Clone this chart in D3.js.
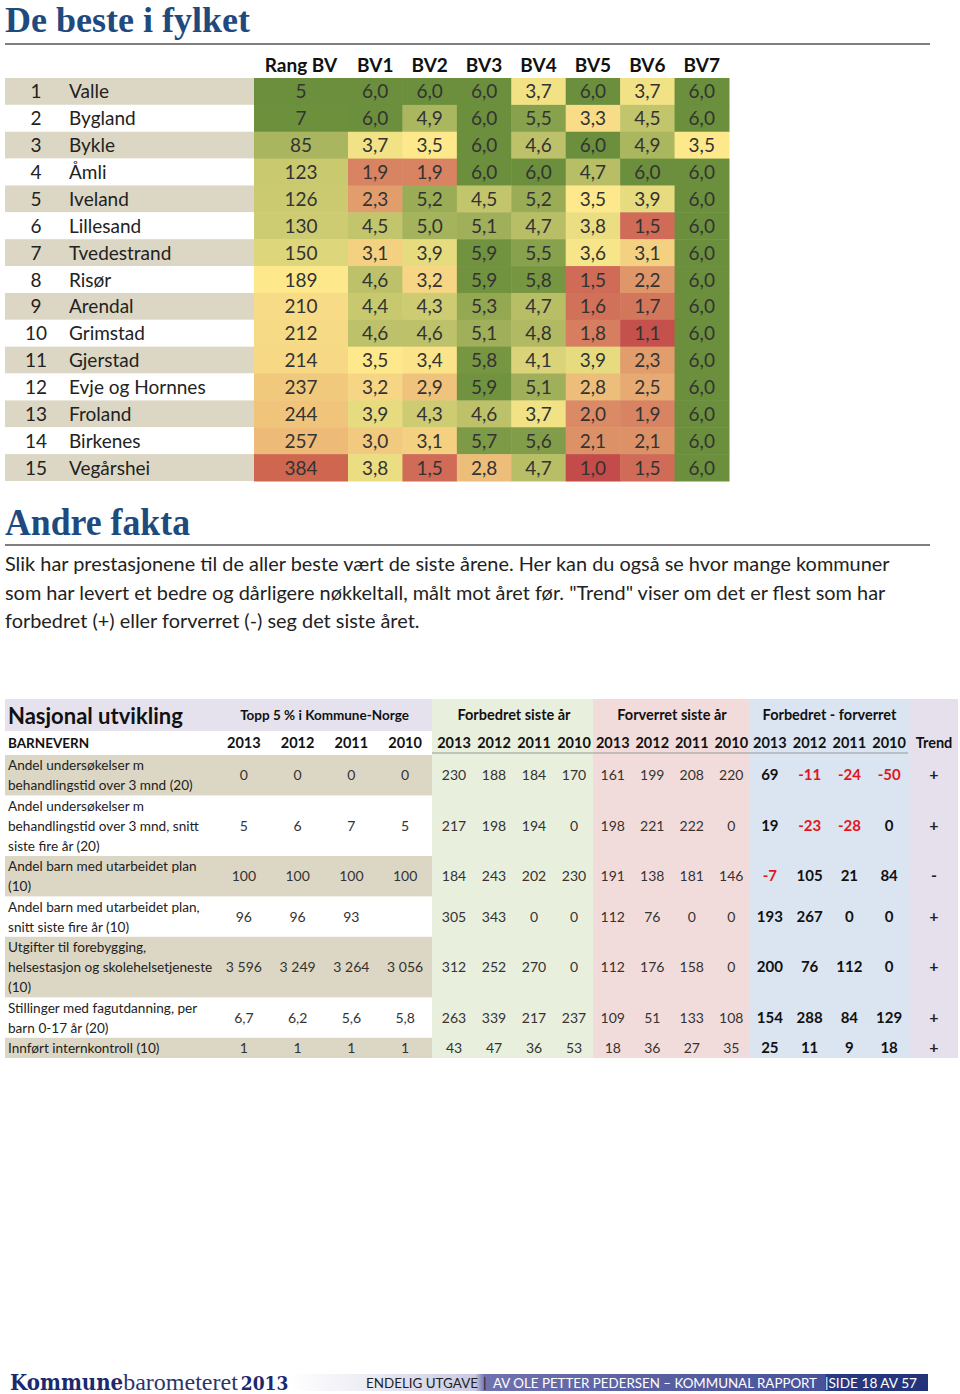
<!DOCTYPE html>
<html><head><meta charset="utf-8">
<script src="https://cdn.jsdelivr.net/npm/d3@7"></script>
<style>body{margin:0;background:#fff}svg{display:block}</style>
</head><body>
<script>
// ---------- DATA ----------
const municipalities = ["Valle","Bygland","Bykle","Åmli","Iveland","Lillesand","Tvedestrand","Risør","Arendal","Grimstad","Gjerstad","Evje og Hornnes","Froland","Birkenes","Vegårshei"];
const rangBV = [5,7,85,123,126,130,150,189,210,212,214,237,244,257,384];
const bvColumns = ["BV1","BV2","BV3","BV4","BV5","BV6","BV7"];
const bv1 = [6.0,6.0,3.7,1.9,2.3,4.5,3.1,4.6,4.4,4.6,3.5,3.2,3.9,3.0,3.8];
const bv2 = [6.0,4.9,3.5,1.9,5.2,5.0,3.9,3.2,4.3,4.6,3.4,2.9,4.3,3.1,1.5];
const bv3 = [6.0,6.0,6.0,6.0,4.5,5.1,5.9,5.9,5.3,5.1,5.8,5.9,4.6,5.7,2.8];
const bv4 = [3.7,5.5,4.6,6.0,5.2,4.7,5.5,5.8,4.7,4.8,4.1,5.1,3.7,5.6,4.7];
const bv5 = [6.0,3.3,6.0,4.7,3.5,3.8,3.6,1.5,1.6,1.8,3.9,2.8,2.0,2.1,1.0];
const bv6 = [3.7,4.5,4.9,6.0,3.9,1.5,3.1,2.2,1.7,1.1,2.3,2.5,1.9,2.1,1.5];
const bv7 = [6.0,6.0,3.5,6.0,6.0,6.0,6.0,6.0,6.0,6.0,6.0,6.0,6.0,6.0,6.0];
const bvSeries = [bv1,bv2,bv3,bv4,bv5,bv6,bv7];

const introLines = [
  "Slik har prestasjonene til de aller beste vært de siste årene. Her kan du også se hvor mange kommuner",
  "som har levert et bedre og dårligere nøkkeltall, målt mot året før. \"Trend\" viser om det er flest som har",
  "forbedret (+) eller forverret (-) seg det siste året."
];

const groupHeaders = ["Topp 5 % i Kommune-Norge","Forbedret siste år","Forverret siste år","Forbedret - forverret"];
const years = ["2013","2012","2011","2010"];
const indicatorLabels = [
  ["Andel undersøkelser m","behandlingstid over 3 mnd (20)"],
  ["Andel undersøkelser m","behandlingstid over 3 mnd, snitt","siste fire år (20)"],
  ["Andel barn med utarbeidet plan","(10)"],
  ["Andel barn med utarbeidet plan,","snitt siste fire år (10)"],
  ["Utgifter til forebygging,","helsestasjon og skolehelsetjeneste","(10)"],
  ["Stillinger med fagutdanning, per","barn 0-17 år (20)"],
  ["Innført internkontroll (10)"]
];
const top5 = [
  ["0","0","0","0"],
  ["5","6","7","5"],
  ["100","100","100","100"],
  ["96","96","93",""],
  ["3 596","3 249","3 264","3 056"],
  ["6,7","6,2","5,6","5,8"],
  ["1","1","1","1"]
];
const improved = [[230,188,184,170],[217,198,194,0],[184,243,202,230],[305,343,0,0],[312,252,270,0],[263,339,217,237],[43,47,36,53]];
const worsened = [[161,199,208,220],[198,221,222,0],[191,138,181,146],[112,76,0,0],[112,176,158,0],[109,51,133,108],[18,36,27,35]];
const netChange = [[69,-11,-24,-50],[19,-23,-28,0],[-7,105,21,84],[193,267,0,0],[200,76,112,0],[154,288,84,129],[25,11,9,18]];
const trend = ["+","+","-","+","+","+","+"];

// ---------- DRAW ----------
const SANS = "Lato, 'Open Sans', sans-serif";
const SERIF = "'Liberation Serif', 'DejaVu Serif', serif";
const BLUE = "#1f4a7e";
const fmt = v => d3.format(".1f")(v).replace(".", ",");

const svg = d3.select("body").append("svg").attr("width",960).attr("height",1394)
  .style("background","#fff");

// Title
svg.append("text").attr("x",5).attr("y",32).text("De beste i fylket")
  .attr("font-family",SERIF).attr("font-weight","bold").attr("font-size",36)
  .attr("fill",BLUE).attr("textLength",245).attr("lengthAdjust","spacingAndGlyphs");
svg.append("line").attr("x1",5).attr("x2",930).attr("y1",44).attr("y2",44)
  .attr("stroke","#555").attr("stroke-width",1.6);

// Top table scales
const yRow = d3.scaleBand().domain(municipalities).range([78,481]);
const xBV = d3.scaleBand().domain(bvColumns).range([348,729]);
const rangX0 = 254, rangX1 = 348;
const RED = "#c34b4a", YEL = "#fde98c", GRN = "#6b8f3c";
const colorBV = d3.scaleLinear().domain([1,3.5,6]).range([RED,YEL,GRN]).interpolate(d3.interpolateRgb);
const colorRang = d3.scaleLinear().domain([d3.min(rangBV), d3.median(rangBV), d3.max(rangBV)]).range([GRN,YEL,"#ce6650"]);

// header
const topHead = svg.append("g").attr("font-family",SANS).attr("font-weight","bold").attr("font-size",19).attr("fill","#111").attr("text-anchor","middle");
topHead.append("text").attr("x",(rangX0+rangX1)/2).attr("y",72).text("Rang BV");
bvColumns.forEach(c => topHead.append("text").attr("x",xBV(c)+xBV.bandwidth()/2).attr("y",72).text(c));

const rows = svg.append("g").selectAll("g").data(municipalities).join("g");
rows.append("rect").attr("x",5).attr("width",rangX0-5).attr("y",d=>yRow(d)).attr("height",yRow.bandwidth())
  .attr("fill",(d,i)=> i%2===0 ? "#dcd7c4" : "#ffffff");
rows.append("text").attr("x",36).attr("y",d=>yRow(d)+yRow.bandwidth()/2+7).attr("text-anchor","middle")
  .attr("font-family",SANS).attr("font-size",19).attr("fill","#222").text((d,i)=>i+1);
rows.append("text").attr("x",69).attr("y",d=>yRow(d)+yRow.bandwidth()/2+7)
  .attr("font-family",SANS).attr("font-size",19).attr("fill","#222").text(d=>d);
rows.append("rect").attr("x",rangX0).attr("width",rangX1-rangX0).attr("y",d=>yRow(d)).attr("height",yRow.bandwidth()+0.5)
  .attr("fill",(d,i)=>colorRang(rangBV[i]));
rows.append("text").attr("x",(rangX0+rangX1)/2).attr("y",d=>yRow(d)+yRow.bandwidth()/2+7).attr("text-anchor","middle")
  .attr("font-family",SANS).attr("font-size",19).attr("fill","#333").text((d,i)=>rangBV[i]);
bvColumns.forEach((c,ci) => {
  rows.append("rect").attr("x",xBV(c)).attr("width",xBV.bandwidth()+0.5).attr("y",d=>yRow(d)).attr("height",yRow.bandwidth()+0.5)
    .attr("fill",(d,i)=>colorBV(bvSeries[ci][i]));
  rows.append("text").attr("x",xBV(c)+xBV.bandwidth()/2).attr("y",d=>yRow(d)+yRow.bandwidth()/2+7).attr("text-anchor","middle")
    .attr("font-family",SANS).attr("font-size",19).attr("fill","#333").text((d,i)=>fmt(bvSeries[ci][i]));
});

// Andre fakta
svg.append("text").attr("x",5).attr("y",535).text("Andre fakta")
  .attr("font-family",SERIF).attr("font-weight","bold").attr("font-size",38)
  .attr("fill",BLUE).attr("textLength",185).attr("lengthAdjust","spacingAndGlyphs");
svg.append("line").attr("x1",5).attr("x2",930).attr("y1",545).attr("y2",545)
  .attr("stroke","#555").attr("stroke-width",1.6);
svg.append("g").selectAll("text").data(introLines).join("text")
  .attr("x",5).attr("y",(d,i)=>571+i*28.7).text(d=>d)
  .attr("font-family",SANS).attr("font-size",19.9).attr("fill","#222");

// Bottom table
const T0 = 699, HEADB = 731, DATA0 = 755, DATA1 = 1058;
const groupRanges = [[217,432],[434,594],[593,751],[750,909]];
const groupBg = [null,[432,593,"#e9efdd"],[593,749,"#f2dcdb"],[749,910,"#dbe5f1"]];
const xGroup = groupRanges.map(r => d3.scaleBand().domain(years).range(r));
const trendX0 = 910, trendX1 = 958;

const bt = svg.append("g");
bt.append("rect").attr("x",5).attr("y",T0).attr("width",432-5).attr("height",HEADB-T0).attr("fill","#e5e2ee");
groupBg.forEach(g => { if (g) bt.append("rect").attr("x",g[0]).attr("y",T0).attr("width",g[1]-g[0]).attr("height",DATA1-T0).attr("fill",g[2]); });
bt.append("rect").attr("x",trendX0).attr("y",T0).attr("width",trendX1-trendX0).attr("height",DATA1-T0).attr("fill","#e5e0ec");

const lineCounts = indicatorLabels.map(l=>l.length);
const cum = d3.cumsum([0, ...lineCounts]);
const yLine = d3.scaleLinear().domain([0, d3.sum(lineCounts)]).range([DATA0, DATA1]);
indicatorLabels.forEach((lab,i) => {
  if (i%2===0) bt.append("rect").attr("x",5).attr("width",432-5).attr("y",yLine(cum[i])).attr("height",yLine(cum[i+1])-yLine(cum[i])).attr("fill","#dcd7c4");
});
bt.append("line").attr("x1",432).attr("x2",908).attr("y1",753).attr("y2",753).attr("stroke","#999").attr("stroke-width",1);

// headers
bt.append("text").attr("x",8).attr("y",724).text("Nasjonal utvikling").attr("font-family",SANS).attr("font-weight","bold").attr("font-size",22).attr("fill","#111");
groupHeaders.forEach((h,gi) => {
  const r = groupRanges[gi];
  bt.append("text").attr("x",(r[0]+r[1])/2).attr("y",720).attr("text-anchor","middle").text(h)
    .attr("font-family",SANS).attr("font-weight","bold").attr("font-size",gi===0?13.5:14.5).attr("fill","#111");
  years.forEach(y => bt.append("text").attr("x",xGroup[gi](y)+xGroup[gi].bandwidth()/2).attr("y",748).attr("text-anchor","middle")
    .text(y).attr("font-family",SANS).attr("font-weight","bold").attr("font-size",14.5).attr("fill","#111"));
});
bt.append("text").attr("x",8).attr("y",748).text("BARNEVERN").attr("font-family",SANS).attr("font-weight","bold").attr("font-size",13.5).attr("fill","#111");
bt.append("text").attr("x",(trendX0+trendX1)/2).attr("y",748).attr("text-anchor","middle").text("Trend").attr("font-family",SANS).attr("font-weight","bold").attr("font-size",14.5).attr("fill","#111");

// data rows
indicatorLabels.forEach((lab,i) => {
  lab.forEach((t,j) => bt.append("text").attr("x",8).attr("y",yLine(cum[i]+j+0.5)+5).text(t)
    .attr("font-family",SANS).attr("font-size",13.6).attr("fill","#222"));
  const cy = (yLine(cum[i])+yLine(cum[i+1]))/2 + 5;
  const sets = [top5[i], improved[i], worsened[i], netChange[i]];
  sets.forEach((vals,gi) => {
    years.forEach((y,k) => {
      const v = vals[k];
      const t = bt.append("text").attr("x",xGroup[gi](y)+xGroup[gi].bandwidth()/2).attr("y",cy).attr("text-anchor","middle")
        .text(v).attr("font-family",SANS);
      if (gi===3) t.attr("font-weight","bold").attr("font-size",15).attr("fill", v<0 ? "#e0161c" : "#111");
      else t.attr("font-size",14).attr("fill","#333");
    });
  });
  bt.append("text").attr("x",(trendX0+trendX1)/2).attr("y",cy).attr("text-anchor","middle").text(trend[i])
    .attr("font-family",SANS).attr("font-weight","bold").attr("font-size",16).attr("fill","#222");
});

// Footer
const defs = svg.append("defs");
const grad = defs.append("linearGradient").attr("id","fbar").attr("x1","0").attr("x2","1").attr("y1","0").attr("y2","0");
[[0,"#ffffff"],[0.12,"#ececf4"],[0.29,"#c9cae2"],[0.305,"#6f72ae"],[0.55,"#5a61a2"],[0.838,"#48529a"],[0.84,"#2a3a80"],[1,"#22337a"]]
  .forEach(s => grad.append("stop").attr("offset",s[0]).attr("stop-color",s[1]));
svg.append("rect").attr("x",290).attr("y",1374).attr("width",638).attr("height",17).attr("fill","url(#fbar)");
const brand = svg.append("text").attr("x",10).attr("y",1390);
brand.append("tspan").text("Kommune")
  .attr("font-family","'DejaVu Serif Condensed', 'DejaVu Serif', serif").attr("font-weight","bold").attr("font-size",22).attr("fill","#1b2a6e");
brand.append("tspan").text("barometeret")
  .attr("font-family",SERIF).attr("font-size",24).attr("fill","#2a3570");
brand.append("tspan").attr("dx",3).text("2013")
  .attr("font-family","'DejaVu Serif Condensed', 'DejaVu Serif', serif").attr("font-weight","bold").attr("font-size",19).attr("fill","#1b2a6e");
svg.append("text").attr("x",366).attr("y",1388).text("ENDELIG UTGAVE").attr("font-family",SANS).attr("font-size",14).attr("fill","#222")
  .attr("textLength",112).attr("lengthAdjust","spacingAndGlyphs");
svg.append("text").attr("x",483).attr("y",1388).text("|").attr("font-family",SANS).attr("font-size",14).attr("fill","#222");
svg.append("text").attr("x",493).attr("y",1388).text("AV OLE PETTER PEDERSEN – KOMMUNAL RAPPORT").attr("font-family",SANS).attr("font-size",14).attr("fill","#fff")
  .attr("textLength",324).attr("lengthAdjust","spacingAndGlyphs");
svg.append("text").attr("x",825).attr("y",1388).text("|SIDE 18 AV 57").attr("font-family",SANS).attr("font-size",14).attr("fill","#fff")
  .attr("textLength",92).attr("lengthAdjust","spacingAndGlyphs");
</script>
</body></html>
